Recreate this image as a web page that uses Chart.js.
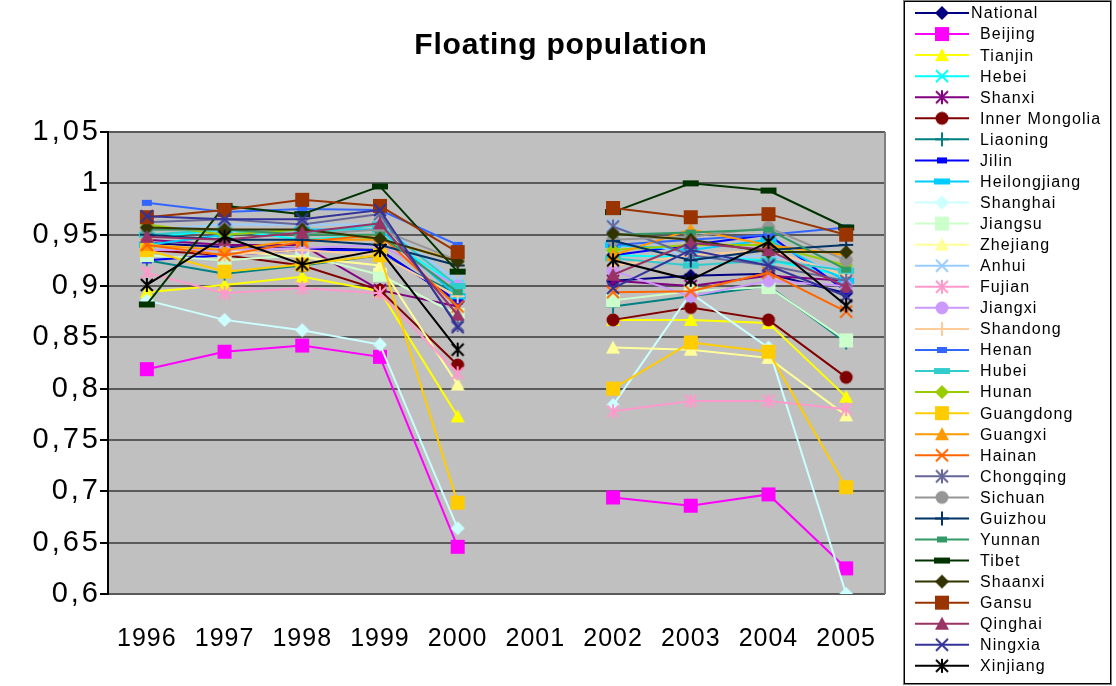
<!DOCTYPE html>
<html>
<head>
<meta charset="utf-8">
<script src="https://cdn.jsdelivr.net/npm/chart.js@4.4.1/dist/chart.umd.min.js"></script>
<style>
  html, body { margin: 0; padding: 0; background: #ffffff; }
  #wrap { width: 1116px; height: 686px; }
</style>
</head>
<body>
<div id="wrap"><canvas id="chart" width="1116" height="686"></canvas></div>
<script>
// Years on the category axis (no survey values for 2001)
const years = ['1996', '1997', '1998', '1999', '2000', '2001', '2002', '2003', '2004', '2005'];

// Y axis range and step
const yMin = 0.6;
const yMax = 1.05;
const yStep = 0.05;

const regions = [
  'National', 'Beijing', 'Tianjin', 'Hebei', 'Shanxi', 'Inner Mongolia', 'Liaoning', 'Jilin',
  'Heilongjiang', 'Shanghai', 'Jiangsu', 'Zhejiang', 'Anhui', 'Fujian', 'Jiangxi', 'Shandong',
  'Henan', 'Hubei', 'Hunan', 'Guangdong', 'Guangxi', 'Hainan', 'Chongqing', 'Sichuan',
  'Guizhou', 'Yunnan', 'Tibet', 'Shaanxi', 'Gansu', 'Qinghai', 'Ningxia', 'Xinjiang'
];

// Series values, one array per region (null = no data for 2001)
const national      = [0.942, 0.938, 0.937, 0.935, 0.885, null, 0.905, 0.910, 0.912, 0.893];
const beijing       = [0.819, 0.836, 0.842, 0.831, 0.646, null, 0.694, 0.686, 0.697, 0.625];
const tianjin       = [0.894, 0.901, 0.909, 0.895, 0.773, null, 0.867, 0.867, 0.864, 0.792];
const hebei         = [0.947, 0.955, 0.945, 0.950, 0.900, null, 0.930, 0.928, 0.925, 0.910];
const shanxi        = [0.945, 0.940, 0.940, 0.896, 0.880, null, 0.905, 0.900, 0.910, 0.905];
const innerMongolia = [0.935, 0.930, 0.920, 0.896, 0.823, null, 0.867, 0.879, 0.867, 0.811];
const liaoning      = [0.925, 0.912, 0.920, 0.930, 0.892, null, 0.880, 0.890, 0.900, 0.845];
const jilin         = [0.925, 0.930, 0.935, 0.935, 0.885, null, 0.930, 0.940, 0.950, 0.895];
const heilongjiang  = [0.940, 0.950, 0.955, 0.955, 0.890, null, 0.940, 0.935, 0.945, 0.905];
const shanghai      = [0.886, 0.867, 0.857, 0.843, 0.664, null, 0.784, 0.893, 0.840, 0.600];
const jiangsu       = [0.930, 0.925, 0.930, 0.911, 0.872, null, 0.886, 0.895, 0.899, 0.847];
const zhejiang      = [0.940, 0.935, 0.928, 0.920, 0.804, null, 0.840, 0.838, 0.830, 0.774];
const anhui         = [0.955, 0.960, 0.960, 0.960, 0.905, null, 0.960, 0.925, 0.930, 0.915];
const fujian        = [0.913, 0.893, 0.898, 0.893, 0.815, null, 0.778, 0.788, 0.788, 0.780];
const jiangxi       = [0.935, 0.935, 0.937, 0.940, 0.900, null, 0.915, 0.890, 0.905, 0.900];
const shandong      = [0.940, 0.930, 0.935, 0.930, 0.890, null, 0.920, 0.930, 0.935, 0.910];
const henan         = [0.981, 0.972, 0.975, 0.974, 0.940, null, 0.940, 0.945, 0.950, 0.957];
const hubei         = [0.950, 0.955, 0.950, 0.960, 0.900, null, 0.927, 0.920, 0.925, 0.915];
const hunan         = [0.960, 0.950, 0.955, 0.945, 0.925, null, 0.935, 0.940, 0.940, 0.920];
const guangdong     = [0.935, 0.914, 0.921, 0.930, 0.689, null, 0.800, 0.845, 0.836, 0.704];
const guangxi       = [0.940, 0.935, 0.945, 0.945, 0.925, null, 0.930, 0.955, 0.940, 0.930];
const hainan        = [0.940, 0.930, 0.943, 0.950, 0.880, null, 0.894, 0.895, 0.913, 0.875];
const chongqing     = [0.962, 0.965, 0.960, 0.970, 0.862, null, 0.958, 0.930, 0.920, 0.905];
const sichuan       = [0.955, 0.955, 0.950, 0.955, 0.925, null, 0.945, 0.948, 0.957, 0.925];
const guizhou       = [0.950, 0.945, 0.945, 0.940, 0.920, null, 0.944, 0.925, 0.935, 0.940];
const yunnan        = [0.955, 0.955, 0.950, 0.950, 0.894, null, 0.950, 0.952, 0.955, 0.916];
const tibet         = [0.882, 0.978, 0.970, 0.997, 0.914, null, 0.972, 1.000, 0.993, 0.957];
const shaanxi       = [0.957, 0.955, 0.955, 0.946, 0.924, null, 0.951, 0.945, 0.933, 0.933];
const gansu         = [0.967, 0.974, 0.984, 0.978, 0.933, null, 0.976, 0.967, 0.970, 0.950];
const qinghai       = [0.948, 0.945, 0.952, 0.961, 0.872, null, 0.911, 0.942, 0.935, 0.899];
const ningxia       = [0.968, 0.965, 0.965, 0.974, 0.860, null, 0.898, 0.935, 0.920, 0.890];
const xinjiang      = [0.901, 0.948, 0.921, 0.935, 0.838, null, 0.925, 0.906, 0.943, 0.881];

const seriesValues = [
  national, beijing, tianjin, hebei, shanxi, innerMongolia, liaoning, jilin,
  heilongjiang, shanghai, jiangsu, zhejiang, anhui, fujian, jiangxi, shandong,
  henan, hubei, hunan, guangdong, guangxi, hainan, chongqing, sichuan,
  guizhou, yunnan, tibet, shaanxi, gansu, qinghai, ningxia, xinjiang
];

// Line colour and marker shape per series
const styles = [
  ['#000080', 'diamond'], ['#FF00FF', 'square'], ['#FFFF00', 'triangle'], ['#00FFFF', 'x'],
  ['#800080', 'asterisk'], ['#800000', 'circle'], ['#008080', 'plus'], ['#0000FF', 'smallbar'],
  ['#00CCFF', 'bar'], ['#CCFFFF', 'diamond'], ['#CCFFCC', 'square'], ['#FFFF99', 'triangle'],
  ['#99CCFF', 'x'], ['#FF99CC', 'asterisk'], ['#CC99FF', 'circle'], ['#FFCC99', 'plus'],
  ['#3366FF', 'smallbar'], ['#33CCCC', 'bar'], ['#99CC00', 'diamond'], ['#FFCC00', 'square'],
  ['#FF9900', 'triangle'], ['#FF6600', 'x'], ['#666699', 'asterisk'], ['#969696', 'circle'],
  ['#003366', 'plus'], ['#339966', 'smallbar'], ['#003300', 'bar'], ['#333300', 'diamond'],
  ['#993300', 'square'], ['#993366', 'triangle'], ['#333399', 'x'], ['#000000', 'asterisk']
];

// Build a small canvas holding one marker glyph
function makeMarker(shape, color) {
  const c = document.createElement('canvas');
  c.width = 18; c.height = 18;
  const g = c.getContext('2d');
  const m = 9;
  g.fillStyle = color; g.strokeStyle = color; g.lineWidth = 2;
  g.beginPath();
  switch (shape) {
    case 'diamond':
      g.moveTo(m, m - 7); g.lineTo(m + 7, m); g.lineTo(m, m + 7); g.lineTo(m - 7, m); g.closePath(); g.fill();
      break;
    case 'square':
      g.fillRect(m - 7, m - 7, 14, 14);
      break;
    case 'triangle':
      g.moveTo(m, m - 7); g.lineTo(m + 7, m + 6); g.lineTo(m - 7, m + 6); g.closePath(); g.fill();
      break;
    case 'circle':
      g.arc(m, m, 6.5, 0, Math.PI * 2); g.fill();
      break;
    case 'x':
      g.moveTo(m - 6, m - 6); g.lineTo(m + 6, m + 6); g.moveTo(m + 6, m - 6); g.lineTo(m - 6, m + 6); g.stroke();
      break;
    case 'asterisk':
      g.moveTo(m - 6, m - 6); g.lineTo(m + 6, m + 6); g.moveTo(m + 6, m - 6); g.lineTo(m - 6, m + 6);
      g.moveTo(m, m - 7); g.lineTo(m, m + 7); g.stroke();
      break;
    case 'plus':
      g.moveTo(m, m - 7); g.lineTo(m, m + 7); g.moveTo(m - 7, m); g.lineTo(m + 7, m); g.stroke();
      break;
    case 'smallbar':
      g.fillRect(m - 5, m - 3, 10, 6);
      break;
    case 'bar':
      g.fillRect(m - 8, m - 3, 16, 6);
      break;
  }
  return c;
}

const markers = styles.map(([color, shape]) => makeMarker(shape, color));

const datasets = regions.map((name, i) => ({
  label: name,
  data: seriesValues[i],
  borderColor: styles[i][0],
  backgroundColor: styles[i][0],
  borderWidth: 2,
  pointStyle: markers[i],
  pointRadius: 5,
  pointHoverRadius: 5,
  spanGaps: false,
  tension: 0,
  order: regions.length - i
}));

const FONT = "Arial, 'Liberation Sans', sans-serif";

function fmt(v) {
  return Number(v.toFixed(2)).toString().replace('.', ',');
}

// Axis variants whose tick labels are drawn with extra letter spacing
class SpacedLinearScale extends Chart.LinearScale {
  drawLabels(area) {
    const ctx = this.ctx;
    ctx.save();
    ctx.letterSpacing = this.options.ticks.letterSpacing || '0px';
    super.drawLabels(area);
    ctx.restore();
  }
}
SpacedLinearScale.id = 'spacedLinear';
SpacedLinearScale.defaults = Chart.LinearScale.defaults;

class SpacedCategoryScale extends Chart.CategoryScale {
  drawLabels(area) {
    const ctx = this.ctx;
    ctx.save();
    ctx.letterSpacing = this.options.ticks.letterSpacing || '0px';
    super.drawLabels(area);
    ctx.restore();
  }
}
SpacedCategoryScale.id = 'spacedCategory';
SpacedCategoryScale.defaults = Chart.CategoryScale.defaults;

Chart.register(SpacedLinearScale, SpacedCategoryScale);

// Grey plot area and its frame
const plotBackground = {
  id: 'plotBackground',
  beforeDraw(chart) {
    const { ctx, chartArea: a } = chart;
    ctx.save();
    ctx.fillStyle = '#C0C0C0';
    ctx.fillRect(a.left, a.top, a.right - a.left, a.bottom - a.top);
    ctx.restore();
  },
  afterDraw(chart) {
    const { ctx, chartArea: a } = chart;
    ctx.save();
    ctx.strokeStyle = '#808080';
    ctx.lineWidth = 2;
    ctx.beginPath();
    ctx.moveTo(a.right, a.top); ctx.lineTo(a.right, a.bottom);
    ctx.stroke();
    ctx.strokeStyle = '#000000';
    ctx.beginPath();
    ctx.moveTo(a.left, a.top - 1); ctx.lineTo(a.left, a.bottom + 1);
    ctx.stroke();
    ctx.restore();
  }
};

// Title and boxed legend drawn beside the plot
const sideLegend = {
  id: 'sideLegend',
  afterDraw(chart) {
    const ctx = chart.ctx;
    ctx.save();
    ctx.fillStyle = '#000';
    ctx.font = 'bold 30px ' + FONT;
    ctx.letterSpacing = '0.8px';
    ctx.textAlign = 'center';
    ctx.textBaseline = 'middle';
    ctx.fillText('Floating population', 561, 46);

    ctx.strokeStyle = '#808080';
    ctx.lineWidth = 1;
    ctx.strokeRect(903.5, 0.5, 208, 684);
    ctx.strokeStyle = '#000';
    ctx.strokeRect(904.5, 1.5, 206, 682);

    ctx.font = '16px ' + FONT;
    ctx.letterSpacing = '1.1px';
    ctx.textAlign = 'left';
    regions.forEach((name, i) => {
      const y = 13 + i * 21.06;
      ctx.strokeStyle = styles[i][0];
      ctx.lineWidth = 2;
      ctx.beginPath();
      ctx.moveTo(915, y); ctx.lineTo(969, y);
      ctx.stroke();
      ctx.drawImage(markers[i], 942 - 9, y - 9);
      ctx.fillStyle = '#000';
      ctx.fillText(name, i === 0 ? 971 : 980, y + 1);
    });
    ctx.restore();
  }
};

new Chart(document.getElementById('chart'), {
  type: 'line',
  data: { labels: years, datasets },
  options: {
    responsive: false,
    animation: false,
    events: [],
    layout: { padding: { left: 0, top: 132, right: 231, bottom: 0 } },
    plugins: {
      legend: { display: false },
      title: { display: false },
      tooltip: { enabled: false }
    },
    scales: {
      x: {
        type: 'spacedCategory',
        offset: true,
        grid: { display: false, drawTicks: false },
        border: { display: false },
        ticks: { color: '#000', font: { family: FONT, size: 25 }, letterSpacing: '1px', padding: 30, maxRotation: 0, autoSkip: false },
        afterFit(scale) { scale.height = 92; }
      },
      y: {
        type: 'spacedLinear',
        min: yMin,
        max: yMax,
        grid: { color: '#5a5a5a', lineWidth: 2, tickLength: 8, tickColor: '#000' },
        border: { display: false },
        ticks: {
          stepSize: yStep,
          color: '#000',
          font: { family: FONT, size: 29 },
          letterSpacing: '3px',
          padding: -1,
          callback: (v) => fmt(v)
        },
        afterFit(scale) { scale.width = 108; }
      }
    }
  },
  plugins: [plotBackground, sideLegend]
});
</script>
</body>
</html>
